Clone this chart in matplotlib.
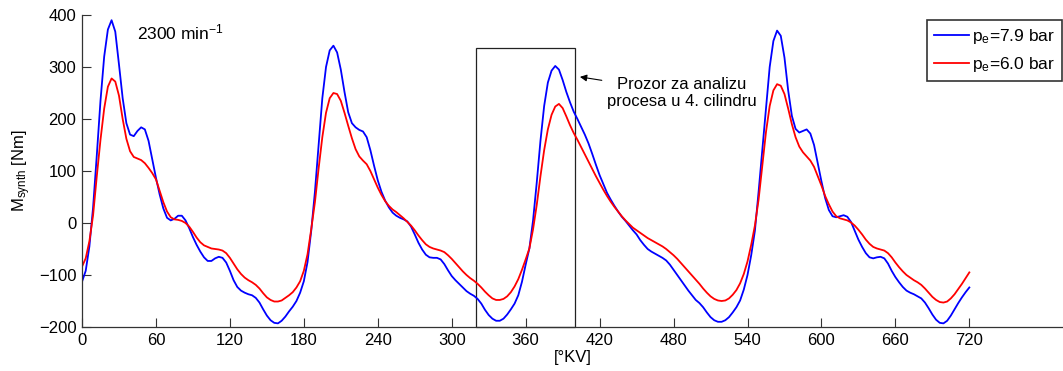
import numpy as np
import matplotlib
matplotlib.use("Agg")
import matplotlib.pyplot as plt
from matplotlib.patches import Rectangle

plt.rcParams['font.family'] = ['Liberation Sans', 'DejaVu Sans']
plt.rcParams['mathtext.fontset'] = 'custom'
plt.rcParams['mathtext.rm'] = 'Liberation Sans'
plt.rcParams['mathtext.it'] = 'Liberation Sans'
plt.rcParams['font.size'] = 12

# crank angle [deg], 3 deg step
angle = np.arange(0, 721, 3)

# synthesized torque, pe = 7.9 bar
m_high = [
    -113, -92, -45, 30, 130, 235, 320, 372, 390, 368,
    305, 240, 192, 170, 167, 177, 184, 180, 158, 122,
    87, 55, 28, 10, 5, 8, 14, 14, 5, -10,
    -27, -42, -55, -66, -73, -73, -68, -65, -67, -76,
    -92, -110, -123, -130, -134, -137, -139, -144, -153, -166,
    -178, -187, -192, -193, -188, -180, -170, -161, -150, -134,
    -112, -75, -15, 60, 150, 240, 300, 332, 341, 328,
    295, 252, 213, 192, 184, 179, 176, 165, 140, 110,
    82, 60, 43, 30, 20, 14, 10, 7, 3, -7,
    -22, -38, -51, -61, -66, -67, -67, -70, -79, -91,
    -102, -110, -117, -124, -131, -136, -140, -146, -155, -167,
    -177, -184, -188, -188, -184, -176, -166, -155, -139, -113,
    -80, -49, 5, 78, 158, 225, 270, 293, 302, 295,
    275, 252, 232, 214, 200, 185, 170, 153, 133, 112,
    92, 75, 58, 45, 33, 22, 12, 4, -5, -14,
    -22, -33, -42, -50, -55, -59, -63, -67, -72, -80,
    -90, -100, -110, -120, -130, -139, -148, -154, -162, -172,
    -181, -187, -190, -190, -187, -181, -172, -162, -149, -128,
    -100, -62, -15, 60, 140, 220, 300, 350, 370, 360,
    318, 255, 206, 181, 174, 177, 180, 172, 150, 115,
    80, 48, 25, 13, 11, 13, 15, 12, 2, -15,
    -32, -46, -58, -66, -68, -66, -65, -68, -78, -92,
    -104, -114, -123, -130, -134, -137, -141, -145, -153, -164,
    -176, -186, -192, -193, -188, -178, -166, -154, -143, -133,
    -124,
]

# synthesized torque, pe = 6.0 bar
m_low = [
    -84, -68, -35, 15, 90, 160, 220, 262, 278, 272,
    245, 200, 162, 138, 127, 124, 121, 115, 106, 96,
    84, 62, 40, 22, 11, 7, 6, 4, 0, -7,
    -17, -28, -37, -43, -46, -49, -50, -51, -53, -58,
    -67, -78, -89, -98, -105, -110, -114, -119, -126, -135,
    -143, -148, -151, -151, -149, -144, -139, -133, -124, -112,
    -92, -60, -12, 40, 105, 165, 212, 240, 250, 248,
    235, 212, 187, 163, 142, 128, 120, 113, 100, 84,
    68, 54, 42, 33, 26, 21, 15, 9, 2, -5,
    -14, -24, -33, -41, -46, -49, -51, -53, -56, -62,
    -69, -77, -85, -93, -100, -106, -111, -117, -124, -132,
    -139, -145, -148, -148, -146, -141, -133, -122, -108, -90,
    -70, -49, -12, 35, 90, 140, 180, 208, 224, 229,
    221, 205, 188, 173, 160, 146, 132, 118, 104, 90,
    77, 64, 52, 41, 31, 22, 13, 5, -2, -9,
    -14, -19, -24, -29, -33, -37, -41, -45, -50, -56,
    -62, -69, -77, -85, -93, -101, -109, -117, -126, -134,
    -141, -146, -149, -150, -149, -145, -138, -129, -116, -98,
    -74, -42, -5, 45, 110, 175, 225, 255, 267, 264,
    248, 220, 190, 165, 147, 136, 128, 120, 108, 90,
    72, 52, 36, 22, 13, 9, 7, 5, 1, -5,
    -13, -22, -32, -40, -46, -49, -51, -53, -58, -66,
    -76, -85, -93, -100, -105, -110, -114, -119, -126, -134,
    -142, -148, -152, -153, -151, -145, -137, -127, -117, -106,
    -95,
]

xticks = list(range(0, 721, 60))
yticks = [-200, -100, 0, 100, 200, 300, 400]

fig = plt.figure(figsize=(10.63, 3.71), dpi=100)
ax = fig.add_axes([82 / 1063, 1 - 327 / 371, 1 - 82 / 1063, (327 - 15) / 371])

ax.plot(angle, m_high, color='#0000ff', lw=1.3, label=r'$\mathregular{p_e}$=7.9 bar')
ax.plot(angle, m_low, color='#ff0000', lw=1.3, label=r'$\mathregular{p_e}$=6.0 bar')

ax.set_xlim(0, 796)
ax.set_ylim(-200, 400)
ax.set_xticks(xticks)
ax.set_yticks(yticks)
for s in ['top', 'right']:
    ax.spines[s].set_visible(False)
for s in ['left', 'bottom']:
    ax.spines[s].set_color('#333333')
    ax.spines[s].set_linewidth(0.9)
ax.tick_params(direction='in', length=6.5, width=0.8, color='#333333', pad=4)

ax.set_xlabel('[°KV]', labelpad=2)
ax.set_ylabel(r'$\mathregular{M_{synth}}$ [Nm]', labelpad=4)

# window around 4th cylinder
ax.add_patch(Rectangle((320, -200), 80, 537, fill=False, ec='#222222', lw=0.9, clip_on=False))
ax.annotate('Prozor za analizu\nprocesa u 4. cilindru', xy=(404, 281), xytext=(487, 250),
            ha='center', va='center', fontsize=12, linespacing=1.1,
            arrowprops=dict(arrowstyle='-|>', color='black', lw=0.8,
                            mutation_scale=10, shrinkA=2, shrinkB=0))

ax.text(45, 367, r'2300 min$^{-1}$', ha='left', va='center', fontsize=12.5)

leg = ax.legend(loc='upper right', bbox_to_anchor=(1062 / 1063, 1 - 20 / 371),
                bbox_transform=fig.transFigure, borderaxespad=0, fancybox=False,
                edgecolor='black', handlelength=2.0, handletextpad=0.2,
                borderpad=0.4, labelspacing=0.5, fontsize=12.5)
leg.get_frame().set_linewidth(1.2)

fig.savefig('out.png', dpi=100)
